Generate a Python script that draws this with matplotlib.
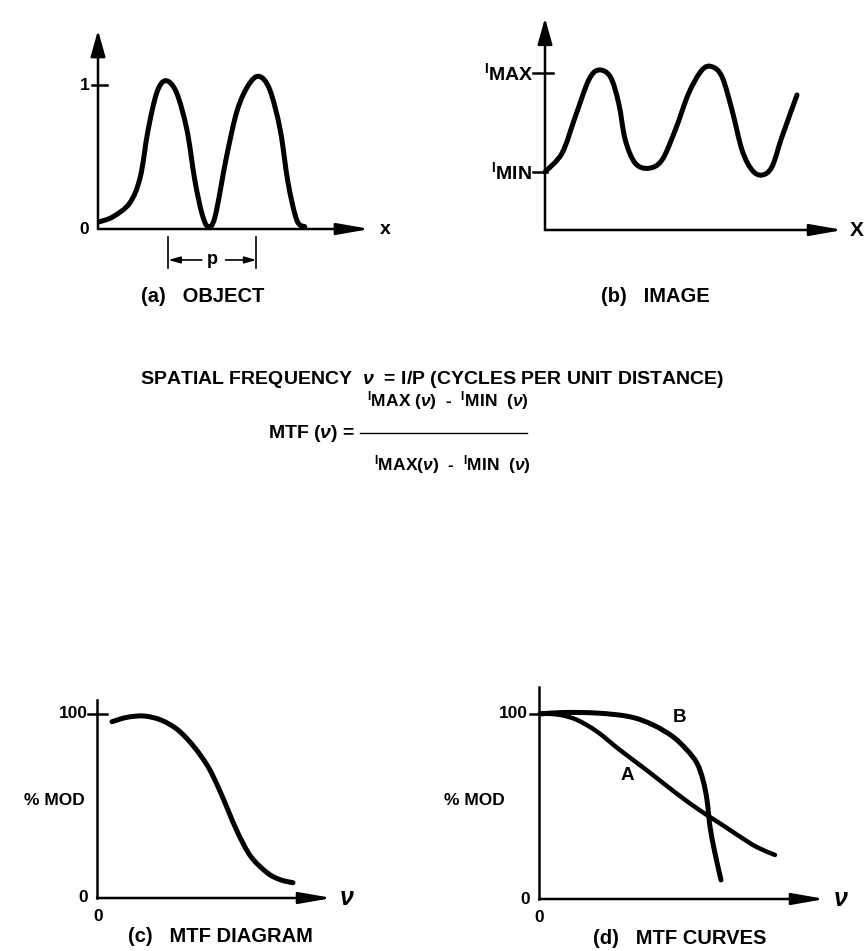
import matplotlib
matplotlib.use("Agg")
import matplotlib.pyplot as plt
from matplotlib.lines import Line2D
from matplotlib.path import Path
from matplotlib.patches import PathPatch

plt.rcParams['font.family'] = ['Liberation Sans', 'DejaVu Sans']
plt.rcParams['font.weight'] = 'bold'
plt.rcParams['mathtext.fontset'] = 'custom'
plt.rcParams['mathtext.rm'] = 'Liberation Sans:bold'
plt.rcParams['mathtext.it'] = 'Liberation Sans:italic:bold'
plt.rcParams['mathtext.bf'] = 'Liberation Sans:bold'

# (a) object: intensity vs position (x in units of the period p)
obj_x = [0.015, 0.17, 0.36, 0.48, 0.57, 0.67, 0.77, 0.89, 1.01, 1.10, 1.18, 1.25,
         1.33, 1.46, 1.58, 1.71, 1.83, 1.95, 2.07, 2.16, 2.26, 2.35]
obj_y = [0.05, 0.085, 0.18, 0.36, 0.69, 0.95, 1.03, 0.95, 0.69, 0.34, 0.11, 0.016,
         0.085, 0.50, 0.82, 1.0, 1.06, 0.97, 0.69, 0.32, 0.06, 0.016]
p_bounds = [0.80, 1.80]

# (b) image: intensity relative to I_MAX
img_x = [0.0, 0.17, 0.303, 0.437, 0.537, 0.653, 0.737, 0.803, 0.903, 1.037, 1.17, 1.303,
         1.437, 1.57, 1.67, 1.77, 1.87, 1.97, 2.07, 2.17, 2.27, 2.37, 2.52]
img_y = [0.37, 0.489, 0.722, 0.955, 1.019, 0.976, 0.807, 0.573, 0.425, 0.393, 0.446, 0.637,
         0.871, 1.019, 1.04, 0.976, 0.764, 0.51, 0.382, 0.35, 0.403, 0.594, 0.86]
i_max, i_min = 1.0, 0.37

# (c) MTF diagram: % modulation vs spatial frequency
mtf_x = [0.15, 0.30, 0.47, 0.64, 0.81, 0.97, 1.11, 1.21, 1.31, 1.41, 1.54, 1.71, 1.84, 1.96]
mtf_y = [95.8, 98.2, 98.9, 96.7, 91.3, 82.2, 71.4, 60.5, 47.8, 35.2, 22.4, 13.4, 9.8, 8.3]

# (d) MTF curves A and B
b_x = [0.01, 0.24, 0.58, 0.91, 1.14, 1.34, 1.48, 1.58, 1.64, 1.68, 1.71, 1.76, 1.82]
b_y = [100, 100.8, 100.5, 98.5, 94.1, 87.7, 80.5, 73.4, 64.3, 53.5, 39.1, 24.7, 10.3]
a_x = [0.01, 0.21, 0.38, 0.58, 0.81, 1.08, 1.34, 1.54, 1.69, 1.84, 2.01, 2.18, 2.36]
a_y = [100.4, 99.5, 96.8, 90.5, 80.5, 69.5, 58.5, 50.5, 45.0, 39.8, 33.7, 28.0, 23.8]

W, H = 868, 951
fig = plt.figure(figsize=(W / 100, H / 100), dpi=100)


def fx(px):
    return px / W


def fy(py):
    return 1 - py / H


def panel(ox, oy, sx, sy, xlim, ylim):
    # axes whose data origin sits at pixel (ox, oy)
    left = ox + xlim[0] * sx
    right = ox + xlim[1] * sx
    top = oy - ylim[1] * sy
    bottom = oy - ylim[0] * sy
    ax = fig.add_axes([fx(left), fy(bottom), (right - left) / W, (bottom - top) / H])
    ax.set_xlim(xlim)
    ax.set_ylim(ylim)
    ax.axis('off')
    return ax


def arrow(ax, start, tip, hl=2.0, hw=0.35):
    ax.annotate('', xy=tip, xytext=start, annotation_clip=False,
                arrowprops=dict(arrowstyle=f'-|>,head_length={hl},head_width={hw}',
                                lw=1.8, color='black', shrinkA=0, shrinkB=0))


def smooth(ax, xs, ys, lw=3.6):
    # smooth stroke through the read points (Catmull-Rom as cubic Beziers)
    pts = list(zip(xs, ys))
    n = len(pts)
    verts = [pts[0]]
    codes = [Path.MOVETO]
    for i in range(n - 1):
        p0 = pts[i - 1] if i > 0 else pts[i]
        p1, p2 = pts[i], pts[i + 1]
        p3 = pts[i + 2] if i + 2 < n else pts[i + 1]
        c1 = (p1[0] + (p2[0] - p0[0]) / 6, p1[1] + (p2[1] - p0[1]) / 6)
        c2 = (p2[0] - (p3[0] - p1[0]) / 6, p2[1] - (p3[1] - p1[1]) / 6)
        verts += [c1, c2, p2]
        codes += [Path.CURVE4] * 3
    ax.add_patch(PathPatch(Path(verts, codes), fill=False, lw=lw, edgecolor='black',
                           capstyle='round', joinstyle='round', clip_on=False))


axis_kw = dict(color='black', lw=1.8, clip_on=False)
CAP = 14.5

# ---- (a) OBJECT
ax = panel(98, 229, 88, 144, (-0.3, 3.3), (-0.6, 1.45))
arrow(ax, (0, 0), (3.09, 0))
arrow(ax, (0, 0), (0, 1.38), hl=1.6, hw=0.45)
ax.plot([-0.07, 0.10], [1, 1], **axis_kw)
smooth(ax, obj_x, obj_y)
ax.text(-0.1, 1, '1', ha='right', va='center', fontsize=12.5)
ax.text(-0.1, 0, '0', ha='right', va='center', fontsize=12.5)
ax.text(3.2, 0, 'x', ha='left', va='center', fontsize=14)
for xb in p_bounds:
    ax.plot([xb, xb], [-0.056, -0.27], color='black', lw=1.2, clip_on=False)
ax.annotate('', xy=(p_bounds[0], -0.215), xytext=(1.18, -0.215), annotation_clip=False,
            arrowprops=dict(arrowstyle='-|>,head_length=0.7,head_width=0.2', lw=1.2, color='black',
                            shrinkA=0, shrinkB=0))
ax.annotate('', xy=(p_bounds[1], -0.215), xytext=(1.45, -0.215), annotation_clip=False,
            arrowprops=dict(arrowstyle='-|>,head_length=0.7,head_width=0.2', lw=1.2, color='black',
                            shrinkA=0, shrinkB=0))
ax.text(1.3, -0.215, 'p', ha='center', va='center', fontsize=13)
fig.text(fx(203), fy(297), '(a)   OBJECT', ha='center', va='center', fontsize=CAP)

# ---- (b) IMAGE
ax = panel(545, 230, 100, 157, (-0.8, 3.2), (-0.3, 1.4))
arrow(ax, (0, 0), (2.98, 0))
arrow(ax, (0, 0), (0, 1.35), hl=1.6, hw=0.45)
ax.plot([-0.12, 0.08], [i_max, i_max], **axis_kw)
ax.plot([-0.12, 0.02], [i_min, i_min], **axis_kw)
smooth(ax, img_x, img_y)
ax.text(-0.11, i_max, r'$^{\mathrm{I}}$MAX', ha='right', va='center', fontsize=14)
ax.text(-0.13, i_min, r'$^{\mathrm{I}}$MIN', ha='right', va='center', fontsize=14)
ax.text(3.05, 0, 'X', ha='left', va='center', fontsize=15)
fig.text(fx(655), fy(297), '(b)   IMAGE', ha='center', va='center', fontsize=CAP)

# ---- title and formula
fig.text(fx(432), fy(380), r'SPATIAL FREQUENCY  $\nu$  = I/P (CYCLES PER UNIT DISTANCE)',
         ha='center', va='center', fontsize=14)
fig.text(fx(355), fy(433), r'MTF ($\nu$) =', ha='right', va='center', fontsize=14)
fig.add_artist(Line2D([fx(360), fx(527)], [fy(433), fy(433)], color='black', lw=1.0))
fig.text(fx(448), fy(401), r'$^{\mathrm{I}}$MAX ($\nu$)  -  $^{\mathrm{I}}$MIN  ($\nu$)',
         ha='center', va='center', fontsize=12.5)
fig.text(fx(452), fy(465), r'$^{\mathrm{I}}$MAX($\nu$)  -  $^{\mathrm{I}}$MIN  ($\nu$)',
         ha='center', va='center', fontsize=12.5)

# ---- (c) MTF DIAGRAM
ax = panel(97, 898, 100, 1.84, (-0.6, 2.6), (-25, 112))
arrow(ax, (0, 0), (2.35, 0))
ax.plot([0, 0], [0, 107.6], **axis_kw)
ax.plot([-0.09, 0.10], [100, 100], **axis_kw)
smooth(ax, mtf_x, mtf_y)
ax.text(-0.09, 100, '100', ha='right', va='center', fontsize=12.5)
ax.text(-0.12, 53, '% MOD', ha='right', va='center', fontsize=12.5)
ax.text(-0.09, 0, '0', ha='right', va='center', fontsize=12.5)
ax.text(0.01, -10, '0', ha='center', va='center', fontsize=12.5)
ax.text(2.42, 0, r'$\nu$', ha='left', va='center', fontsize=18)
fig.text(fx(220), fy(937), '(c)   MTF DIAGRAM', ha='center', va='center', fontsize=CAP)

# ---- (d) MTF CURVES
ax = panel(539, 899, 100, 1.85, (-1.0, 3.2), (-25, 118))
arrow(ax, (0, 0), (2.86, 0))
ax.plot([0, 0], [0, 114.6], **axis_kw)
ax.plot([-0.09, 0.0], [100, 100], **axis_kw)
smooth(ax, b_x, b_y)
smooth(ax, a_x, a_y, lw=3.2)
ax.text(1.41, 98, 'B', ha='center', va='center', fontsize=13.5)
ax.text(0.88, 67, 'A', ha='center', va='center', fontsize=13.5)
ax.text(-0.11, 100, '100', ha='right', va='center', fontsize=12.5)
ax.text(-0.34, 53, '% MOD', ha='right', va='center', fontsize=12.5)
ax.text(-0.09, 0, '0', ha='right', va='center', fontsize=12.5)
ax.text(0.0, -10, '0', ha='center', va='center', fontsize=12.5)
ax.text(2.94, 0, r'$\nu$', ha='left', va='center', fontsize=18)
fig.text(fx(680), fy(938), '(d)   MTF CURVES', ha='center', va='center', fontsize=CAP)

fig.savefig('out.png', dpi=100, facecolor='white')
